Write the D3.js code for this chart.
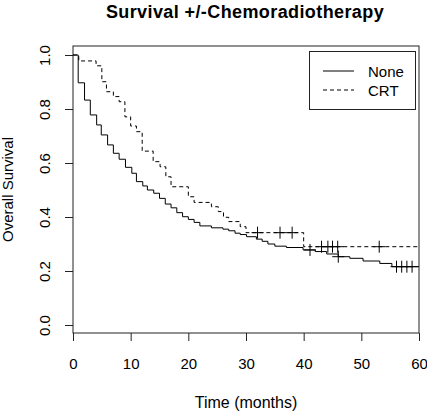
<!DOCTYPE html>
<html>
<head>
<meta charset="utf-8">
<script src="https://cdn.jsdelivr.net/npm/d3@7"></script>
<style>
  html, body { margin: 0; padding: 0; background: #fff; }
  svg { display: block; }
  text { font-family: "Liberation Sans", Arial, sans-serif; fill: #000; }
</style>
</head>
<body>
<svg id="chart" width="427" height="414"></svg>
<script>
// ---- data ----
const title = "Survival +/-Chemoradiotherapy";
const xLabel = "Time (months)";
const yLabel = "Overall Survival";
const xTicks = [0, 10, 20, 30, 40, 50, 60];
const yTicks = [0.0, 0.2, 0.4, 0.6, 0.8, 1.0];
const seriesNames = ["None", "CRT"];

// "None" (no chemoradiotherapy): step times and survival after each step
const noneTimes = [0, 0.9, 2.0, 3.0, 4.1, 4.9, 6.0, 7.0, 8.0, 9.1, 10.2, 11.0, 12.1, 12.9, 14.0, 15.0, 16.0, 17.0, 18.0, 19.0, 20.0, 21.0, 22.0, 24.0, 26.0, 27.0, 28.1, 29.0, 30.1, 31.8, 32.8, 33.8, 35.0, 37.0, 39.9, 42.0, 44.0, 46.0, 48.0, 50.3, 53.2, 55.3];
const noneSurv  = [1.0, 0.897, 0.833, 0.778, 0.741, 0.704, 0.667, 0.636, 0.614, 0.584, 0.562, 0.531, 0.515, 0.500, 0.488, 0.469, 0.448, 0.434, 0.416, 0.401, 0.391, 0.380, 0.367, 0.360, 0.355, 0.349, 0.340, 0.335, 0.327, 0.318, 0.310, 0.300, 0.292, 0.287, 0.278, 0.272, 0.263, 0.253, 0.247, 0.237, 0.228, 0.216];
const noneCensor = [41.1, 46.0, 56.1, 57.0, 57.9, 58.8];

// "CRT" (chemoradiotherapy)
const crtTimes = [0, 1.0, 4.0, 5.0, 5.8, 7.0, 8.0, 9.0, 10.0, 11.0, 12.0, 13.9, 15.1, 16.1, 17.0, 20.0, 21.0, 24.0, 25.2, 26.1, 27.0, 29.0, 30.0, 40.0];
const crtSurv  = [1.0, 0.978, 0.960, 0.901, 0.864, 0.846, 0.827, 0.771, 0.737, 0.716, 0.644, 0.605, 0.586, 0.549, 0.512, 0.475, 0.454, 0.438, 0.420, 0.399, 0.383, 0.364, 0.342, 0.290];
const crtCensor = [32.0, 35.9, 38.0, 43.1, 44.2, 45.0, 45.9, 53.1];

const xMax = 60;

// ---- layout ----
const svg = d3.select("#chart");
const plot = { left: 73, right: 419, top: 46, bottom: 333 };
const x = d3.scaleLinear().domain([0, 60]).range([plot.left, plot.right]);
const y = d3.scaleLinear().domain([0, 1]).range([325, 55]);

// step-function helpers
function stepPoints(times, surv, end) {
  const pts = times.map((t, i) => [t, surv[i]]);
  pts.push([end, surv[surv.length - 1]]);
  return pts;
}
function survAt(times, surv, t) {
  let s = surv[0];
  for (let i = 0; i < times.length; i++) if (times[i] <= t) s = surv[i];
  return s;
}
const line = d3.line().x(d => x(d[0])).y(d => y(d[1])).curve(d3.curveStepAfter);

// plot frame
svg.append("rect")
  .attr("x", plot.left).attr("y", plot.top)
  .attr("width", plot.right - plot.left).attr("height", plot.bottom - plot.top)
  .attr("fill", "none").attr("stroke", "#222").attr("stroke-width", 1);

// x axis
const xAxis = d3.axisBottom(x).tickValues(xTicks).tickSize(8).tickPadding(17).tickFormat(d3.format("d"));
const gx = svg.append("g").attr("transform", `translate(0,${plot.bottom})`).call(xAxis);
gx.select(".domain").remove();
gx.selectAll("line").attr("stroke", "#222");
gx.selectAll("text").style("font-size", "15px").style("font-family", "Liberation Sans, Arial, sans-serif");

// y axis
const yAxis = d3.axisLeft(y).tickValues(yTicks).tickSize(8).tickFormat(d3.format(".1f"));
const gy = svg.append("g").attr("transform", `translate(${plot.left},0)`).call(yAxis);
gy.select(".domain").remove();
gy.selectAll("line").attr("stroke", "#222");
gy.selectAll("text")
  .style("font-size", "15px").style("font-family", "Liberation Sans, Arial, sans-serif")
  .attr("x", 0).attr("y", 0).attr("dy", null)
  .attr("text-anchor", "middle")
  .attr("transform", "translate(-23,0) rotate(-90)");

// curves
svg.append("path").datum(stepPoints(noneTimes, noneSurv, xMax))
  .attr("d", line).attr("fill", "none").attr("stroke", "#000").attr("stroke-width", 1);
svg.append("path").datum(stepPoints(crtTimes, crtSurv, xMax))
  .attr("d", line).attr("fill", "none").attr("stroke", "#000").attr("stroke-width", 1)
  .attr("stroke-dasharray", "4,3");

// censor marks (+)
function drawCensor(times, surv, cens) {
  const g = svg.append("g");
  cens.forEach(t => {
    const cx = x(t), cy = y(survAt(times, surv, t));
    g.append("line").attr("x1", cx).attr("x2", cx).attr("y1", cy - 6).attr("y2", cy + 6)
      .attr("stroke", "#000").attr("stroke-width", 1);
    g.append("line").attr("x1", cx - 6).attr("x2", cx + 6).attr("y1", cy).attr("y2", cy)
      .attr("stroke", "#000").attr("stroke-width", 1);
  });
}
drawCensor(noneTimes, noneSurv, noneCensor);
drawCensor(crtTimes, crtSurv, crtCensor);

// legend
const lg = svg.append("g");
lg.append("rect").attr("x", 309.5).attr("y", 51.5).attr("width", 106).attr("height", 58)
  .attr("fill", "#fff").attr("stroke", "#222").attr("stroke-width", 1);
const legendRows = [
  { name: seriesNames[0], dash: null, ly: 71 },
  { name: seriesNames[1], dash: "4,3", ly: 90 }
];
legendRows.forEach(r => {
  lg.append("line").attr("x1", 323).attr("x2", 354).attr("y1", r.ly).attr("y2", r.ly)
    .attr("stroke", "#000").attr("stroke-width", 1)
    .attr("stroke-dasharray", r.dash);
  lg.append("text").attr("x", 368).attr("y", r.ly + 5.5).style("font-size", "15px").text(r.name);
});

// title & axis labels
const cxPlot = (plot.left + plot.right) / 2;
svg.append("text").attr("x", cxPlot - 1).attr("y", 18).attr("text-anchor", "middle")
  .style("font-size", "18px").style("font-weight", "bold").style("letter-spacing", "0.4px").text(title);
svg.append("text").attr("x", cxPlot).attr("y", 408).attr("text-anchor", "middle")
  .style("font-size", "16px").text(xLabel);
svg.append("text").attr("text-anchor", "middle")
  .attr("transform", `translate(13,${(plot.top + plot.bottom) / 2}) rotate(-90)`)
  .style("font-size", "15px").text(yLabel);
</script>
</body>
</html>
